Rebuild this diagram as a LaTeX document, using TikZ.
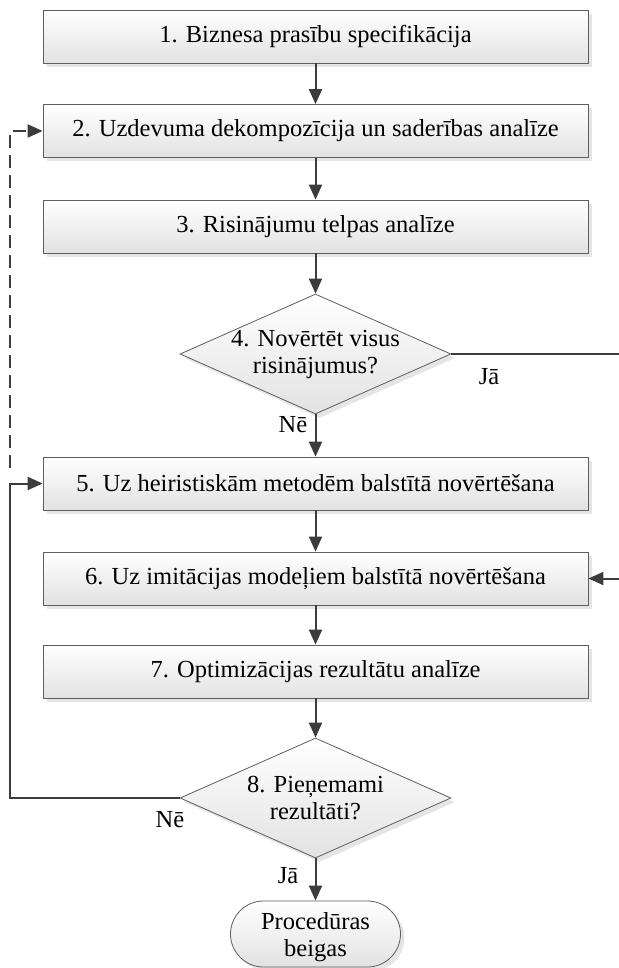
\documentclass[tikz,border=0pt]{standalone}
\usepackage{fontspec}
\setmainfont{Liberation Serif}
\usetikzlibrary{shapes.geometric,shapes.misc,shadows,arrows.meta}

\definecolor{linegray}{HTML}{3C3C3C}
\definecolor{edgegray}{HTML}{5E5E5E}
\definecolor{shadegray}{HTML}{E2E2E2}

\tikzset{
  base/.style={draw=edgegray, line width=0.8pt, top color=white, bottom color=shadegray,
    font=\fontsize{24.5}{27}\selectfont,
    drop shadow={shadow xshift=4pt, shadow yshift=-4pt, fill=black, opacity=0.1}},
  process/.style={base, rectangle, minimum width=545pt, minimum height=53pt, inner sep=0pt},
  decision/.style={base, diamond, minimum width=271pt, minimum height=120pt, inner sep=0pt},
  terminal/.style={base, rounded rectangle, minimum width=170pt, minimum height=66pt, inner sep=0pt},
  qtext/.style={font=\fontsize{24.5}{27}\selectfont, align=center, inner sep=0pt},
  flow/.style={draw=linegray, line width=2pt, -{Triangle[length=15pt,width=13pt]}},
  backflow/.style={flow, dash pattern=on 13pt off 7pt},
  lab/.style={font=\fontsize{24.5}{27}\selectfont, inner sep=0pt},
}

\begin{document}
\begin{tikzpicture}[x=1pt, y=-1pt]
  \useasboundingbox (0,0) rectangle (618,968);

  % process steps
  \node[process] (b1) at (315.5,36.5) {1. Biznesa prasību specifikācija};
  \node[process] (b2) at (315.5,131) {2. Uzdevuma dekompozīcija un saderības analīze};
  \node[process] (b3) at (315.5,226.5) {3. Risinājumu telpas analīze};
  \node[decision, label={[qtext]center:{4. Novērtēt visus\\risinājumus?}}] (d4) at (315.5,354) {};
  \node[process] (b5) at (315.5,483.5) {5. Uz heiristiskām metodēm balstītā novērtēšana};
  \node[process] (b6) at (315.5,578.5) {6. Uz imitācijas modeļiem balstītā novērtēšana};
  \node[process] (b7) at (315.5,671.5) {7. Optimizācijas rezultātu analīze};
  \node[decision, label={[qtext]center:{8. Pieņemami\\rezultāti?}}] (d8) at (315.5,798) {};
  \node[terminal, label={[qtext, yshift=-3pt]center:{Procedūras\\beigas}}] (end) at (315.5,934) {};

  % routing points for the side loops
  \coordinate (rx) at (620,354);
  \coordinate (lx) at (10,483.5);
  \coordinate (ld) at (10,468);

  % main flow
  \draw[flow] (b1.south) -- (b2.north);
  \draw[flow] (b2.south) -- (b3.north);
  \draw[flow] (b3.south) -- (d4.north);
  \draw[flow] (d4.south) -- (b5.north);
  \draw[flow] (b5.south) -- (b6.north);
  \draw[flow] (b6.south) -- (b7.north);
  \draw[flow] (b7.south) -- (d8.north);
  \draw[flow] (d8.south) -- (end.north);

  % "yes" branch of step 4 and "no" branch of step 8
  \draw[flow] (d4.east) -| (rx) |- (b6.east);
  \draw[flow] (d8.west) -| (lx) |- (b5.west);
  \draw[backflow] (ld) |- (b2.west);

  % branch labels
  \node[lab] (ja1) at (489,377) {Jā};
  \node[lab] (ne1) at (293,425) {Nē};
  \node[lab] (ne2) at (170,820) {Nē};
  \node[lab] (ja2) at (288,876) {Jā};
\end{tikzpicture}
\end{document}
